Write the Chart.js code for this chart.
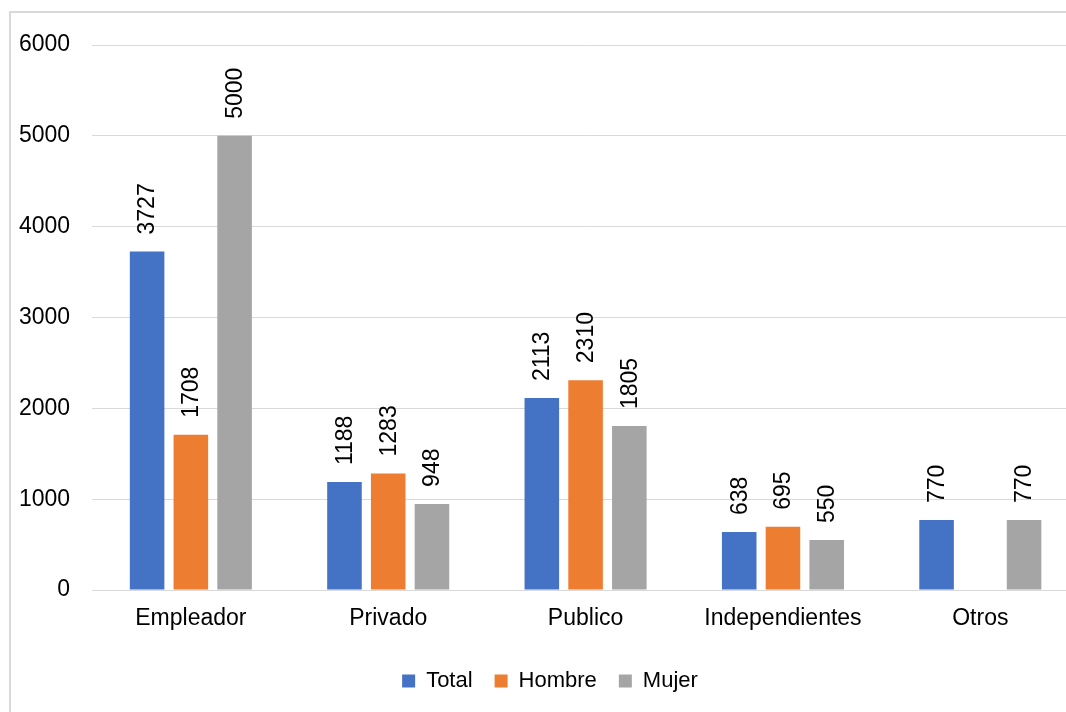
<!DOCTYPE html>
<html>
<head>
<meta charset="utf-8">
<script src="https://cdn.jsdelivr.net/npm/chart.js@4"></script>
<style>
  html, body { margin: 0; padding: 0; background: #fff; overflow: hidden; width: 1066px; height: 712px; }
  #frame { position: absolute; left: 9px; top: 11px; width: 1100px; height: 760px; border: 2px solid #d9d9d9; }
  #wrap { position: absolute; left: -21px; top: 0; width: 1103px; height: 712px; }
</style>
</head>
<body>
<div id="frame"></div>
<div id="wrap"><canvas id="chart"></canvas></div>
<script>
// Ingresos por categoría ocupacional
const categorias = ["Empleador", "Privado", "Publico", "Independientes", "Otros"];
const total = [3727, 1188, 2113, 638, 770];
const hombre = [1708, 1283, 2310, 695, null];
const mujer = [5000, 948, 1805, 550, 770];
const yTicks = [0, 1000, 2000, 3000, 4000, 5000, 6000];

const FONT = "'Liberation Sans', Arial, sans-serif";

// etiquetas verticales sobre cada barra
const etiquetas = {
  id: "etiquetas",
  afterLayout(chart) {
    // leyenda un poco a la derecha, como en el original
    chart.legend.left += 12;
    chart.legend.right += 12;
  },
  afterDatasetsDraw(chart) {
    const ctx = chart.ctx;
    ctx.save();
    ctx.font = "23px " + FONT;
    ctx.fillStyle = "#000";
    ctx.textAlign = "left";
    ctx.textBaseline = "middle";
    chart.data.datasets.forEach((ds, i) => {
      chart.getDatasetMeta(i).data.forEach((bar, j) => {
        const v = ds.data[j];
        if (v == null) return;
        ctx.save();
        ctx.translate(bar.x + 1, bar.y - 17);
        ctx.rotate(-Math.PI / 2);
        ctx.fillText(String(v), 0, 0);
        ctx.restore();
      });
    });
    ctx.restore();
  },
};

new Chart(document.getElementById("chart"), {
  type: "bar",
  data: {
    labels: categorias,
    datasets: [
      { label: "Total", data: total, backgroundColor: "#4472C4" },
      { label: "Hombre", data: hombre, backgroundColor: "#ED7D31" },
      { label: "Mujer", data: mujer, backgroundColor: "#A5A5A5" },
    ],
  },
  options: {
    responsive: true,
    maintainAspectRatio: false,
    animation: false,
    categoryPercentage: 0.665,
    barPercentage: 0.79,
    layout: { padding: { top: 45, right: 3, bottom: 10, left: 18 } },
    plugins: {
      legend: {
        position: "bottom",
        labels: {
          boxWidth: 13,
          boxHeight: 13,
          padding: 22,
          color: "#000",
          font: { family: FONT, size: 22 },
        },
      },
      tooltip: { enabled: false },
    },
    scales: {
      x: {
        grid: { display: false, drawTicks: false },
        border: { color: "#d9d9d9", width: 1 },
        ticks: { color: "#000", padding: 15, font: { family: FONT, size: 23 } },
        afterFit: (s) => { s.height = 58; },
      },
      y: {
        min: 0,
        max: 6000,
        afterBuildTicks: (s) => { s.ticks = yTicks.map((v) => ({ value: v })); },
        grid: { color: "#d9d9d9", drawTicks: false },
        border: { display: false },
        ticks: {
          color: "#000",
          padding: 22,
          font: { family: FONT, size: 23 },
          callback: (v) => String(v),
        },
      },
    },
  },
  plugins: [etiquetas],
});
</script>
</body>
</html>
